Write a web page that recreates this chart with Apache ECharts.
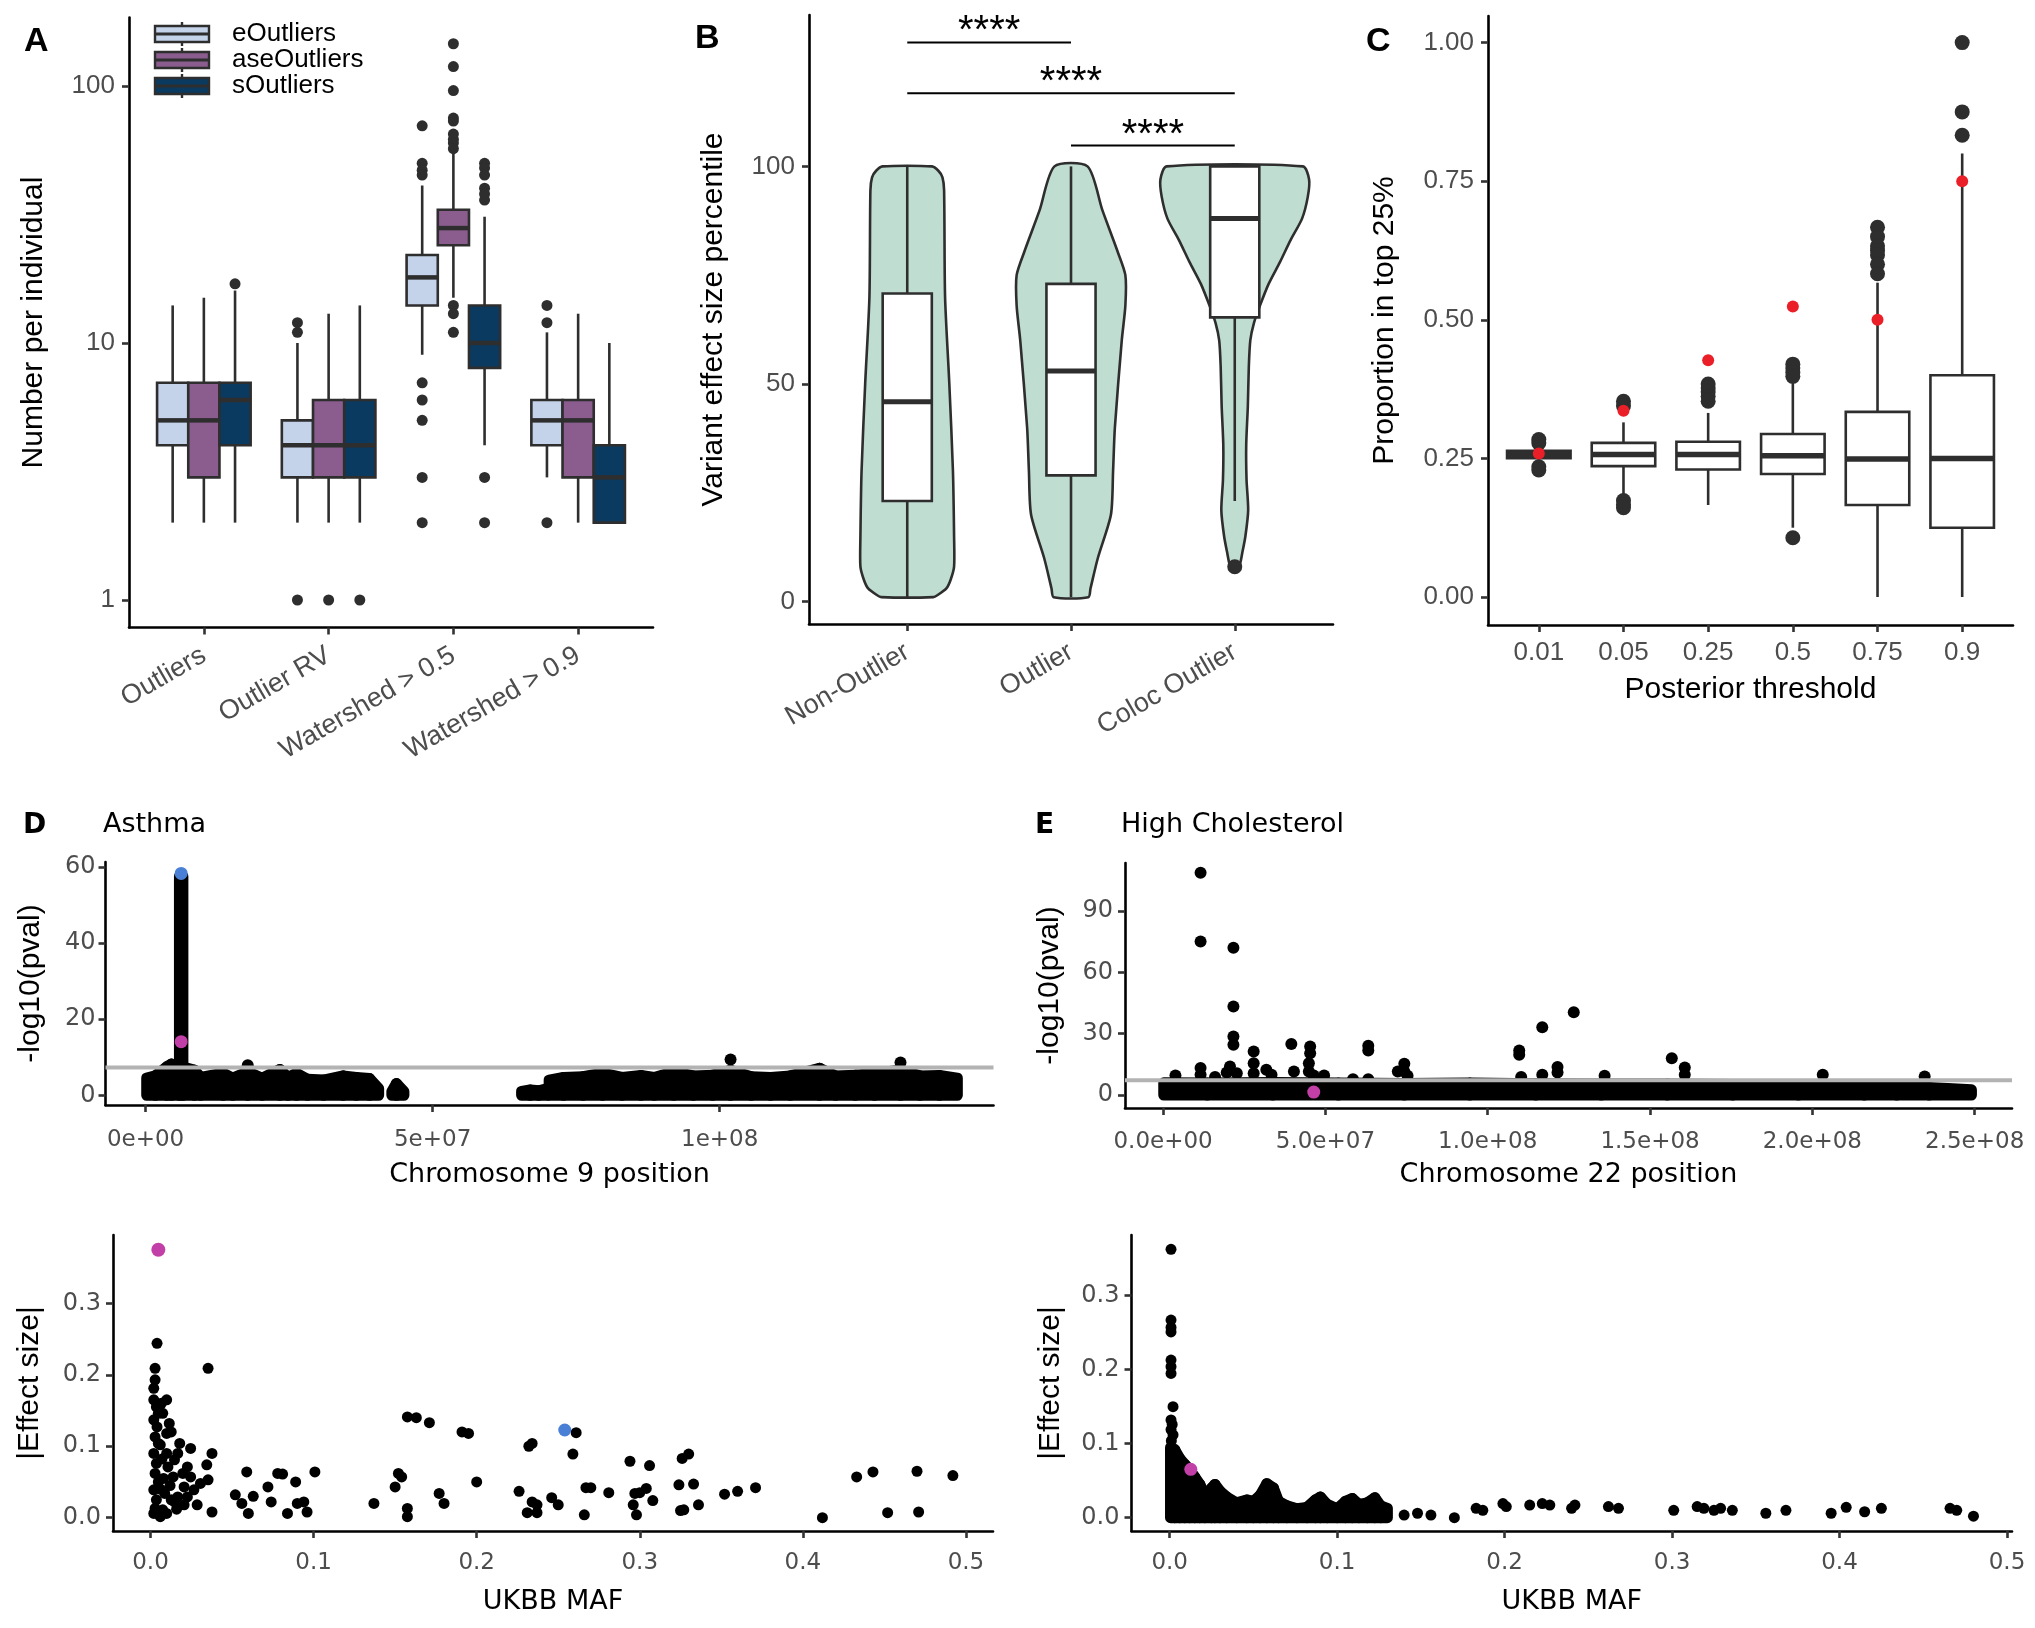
<!DOCTYPE html>
<html><head><meta charset="utf-8">
<script src="https://cdn.jsdelivr.net/npm/echarts@6/dist/echarts.min.js"></script>
<style>html,body{margin:0;padding:0;background:#fff}#c{width:2035px;height:1628px}</style>
</head><body><div id="c"></div><script>
// ================= DATA =================
// ---- Panel A ----
const A_categories = ['Outliers', 'Outlier RV', 'Watershed > 0.5', 'Watershed > 0.9'];
const A_groups = ['eOutliers', 'aseOutliers', 'sOutliers'];
// [lowerWhisker, q1, median, q3, upperWhisker] per category
const A_eOutliers = [[2, 4, 5, 7, 14], [2, 3, 4, 5, 10], [9, 14, 18, 22, 41], [3, 4, 5, 6, 11]];
const A_aseOutliers = [[2, 3, 5, 7, 15], [2, 3, 4, 6, 13], [15, 24, 28, 33, 56], [2, 3, 5, 6, 13]];
const A_sOutliers = [[2, 4, 6, 7, 16], [2, 3, 4, 6, 14], [4, 8, 10, 14, 31], [2, 2, 3, 4, 10]];
// outliers: [categoryIndex, value]
const A_eOutliers_out = [[1, 12], [1, 11], [1, 1], [2, 70], [2, 50], [2, 47], [2, 45], [2, 7], [2, 6], [2, 5], [2, 3], [2, 2], [3, 14], [3, 12], [3, 2]];
const A_aseOutliers_out = [[1, 1], [2, 146], [2, 119], [2, 96], [2, 75], [2, 73], [2, 65], [2, 62], [2, 60], [2, 57], [2, 14], [2, 13], [2, 11]];
const A_sOutliers_out = [[0, 17], [1, 1], [2, 50], [2, 48], [2, 45], [2, 40], [2, 38], [2, 36], [2, 3], [2, 2]];
const A_yTicks = [1, 10, 100];
const A_yTickLabels = ['1', '10', '100'];

// ---- Panel B ----
const B_categories = ['Non-Outlier', 'Outlier', 'Coloc Outlier'];
// violin outline: [percentile, half width in category units]
const B_violin_nonOutlier = [[1, 0.159], [1.5, 0.186], [3, 0.239], [5, 0.265], [8, 0.286], [15, 0.286], [30, 0.279], [50, 0.257], [70, 0.231], [94.5, 0.225], [97.5, 0.215], [99, 0.19], [100, 0.151]];
const B_violin_outlier = [[1, 0.106], [3, 0.119], [10, 0.164], [20, 0.244], [30, 0.257], [40, 0.268], [60, 0.31], [68, 0.332], [75, 0.332], [80.5, 0.284], [90, 0.191], [100, 0.101]];
const B_violin_coloc = [[7.5, 0.0], [8.5, 0.03], [11, 0.045], [15, 0.065], [21, 0.082], [28, 0.072], [36, 0.07], [45, 0.08], [54, 0.086], [60, 0.095], [64, 0.117], [68, 0.154], [73, 0.207], [78, 0.276], [83, 0.34], [88, 0.411], [93, 0.446], [97, 0.454], [100, 0.416]];
const B_box = [[1, 23.1, 45.9, 70.8, 100], [1, 29, 53, 73, 100], [23.1, 65.3, 88, 100, 100]];
const B_outliers = [[2, 8]];
const B_sigBars = [[0, 1, 128.5], [0, 2, 116.8], [1, 2, 104.8]];
const B_sigLabels = ['****', '****', '****'];
const B_yTicks = [0, 50, 100];

// ---- Panel C ----
const C_categories = ['0.01', '0.05', '0.25', '0.5', '0.75', '0.9'];
const C_box = [[0.245, 0.2504, 0.257, 0.2637, 0.27], [0.182, 0.236, 0.257, 0.278, 0.315], [0.166, 0.23, 0.257, 0.28, 0.332], [0.125, 0.222, 0.255, 0.294, 0.386], [0, 0.166, 0.249, 0.334, 0.567], [0, 0.125, 0.25, 0.40, 0.8]];
const C_outliers = [[0, 0.284], [0, 0.278], [0, 0.235], [0, 0.229], [1, 0.353], [1, 0.345], [1, 0.174], [1, 0.167], [1, 0.161], [2, 0.384], [2, 0.377], [2, 0.37], [2, 0.362], [2, 0.353], [3, 0.42], [3, 0.413], [3, 0.405], [3, 0.398], [3, 0.107], [4, 0.667], [4, 0.65], [4, 0.633], [4, 0.625], [4, 0.617], [4, 0.6], [4, 0.583], [5, 1.0], [5, 0.875], [5, 0.833]];
const C_observed = [0.259, 0.336, 0.427, 0.524, 0.5, 0.75];
const C_yTicks = [0, 0.25, 0.5, 0.75, 1.0];
const C_yTickLabels = ['0.00', '0.25', '0.50', '0.75', '1.00'];

// ---- Panel D top: Asthma, chromosome 9 ----
const Dt_xTicks = [0, 5e7, 1e8];
const Dt_xTickLabels = ['0e+00', '5e+07', '1e+08'];
const Dt_yTicks = [0, 20, 40, 60];
const Dt_threshold = 7.3;
// dense bands of variants: [position, upper -log10(p)]
const Dt_band1 = [[2e5, 4.5], [1.7e6, 5.1], [3.7e6, 7.5], [4.5e6, 8.2], [8.5e6, 6.6], [9.6e6, 4.7], [1.35e7, 5.8], [1.52e7, 4.5], [1.78e7, 6.2], [2.03e7, 4.5], [2.34e7, 6.8], [2.48e7, 4.7], [2.63e7, 5.8], [2.82e7, 4.2], [3.1e7, 4.0], [3.44e7, 5.1], [3.67e7, 4.7], [3.9e7, 4.4], [4.06e7, 1.8]];
const Dt_band2 = [[4.29e7, 1.0], [4.37e7, 3.1], [4.5e7, 1.0]];
const Dt_band3 = [[6.55e7, 1.0], [6.7e7, 1.4], [6.85e7, 1.2], [7.0e7, 1.8]];
const Dt_band4 = [[7.03e7, 4.0], [7.28e7, 4.7], [7.62e7, 4.9], [7.96e7, 5.8], [8.3e7, 4.7], [8.63e7, 5.2], [8.86e7, 4.7], [9.2e7, 6.2], [9.54e7, 5.1], [9.88e7, 5.3], [1.019e8, 6.6], [1.055e8, 4.9], [1.089e8, 4.7], [1.123e8, 5.1], [1.174e8, 7.1], [1.202e8, 5.1], [1.236e8, 5.3], [1.27e8, 5.8], [1.315e8, 6.6], [1.349e8, 5.1], [1.383e8, 5.2], [1.414e8, 4.5]];
const Dt_peak = [[5.9e6, 57.5], [6.5e6, 57.5]];
const Dt_points = [[1.78e7, 7.9], [1.019e8, 9.4], [1.315e8, 8.6]];
const Dt_lead = [[6.2e6, 58.3]];
const Dt_coloc = [[6.2e6, 14.1]];

// ---- Panel E top: High Cholesterol, chromosome 22 ----
const Et_xTicks = [0, 5e7, 1e8, 1.5e8, 2e8, 2.5e8];
const Et_xTickLabels = ['0.0e+00', '5.0e+07', '1.0e+08', '1.5e+08', '2.0e+08', '2.5e+08'];
const Et_yTicks = [0, 30, 60, 90];
const Et_threshold = 7.3;
const Et_band = [[2e5, 6.0], [1.36e7, 5.9], [3.38e7, 6.2], [5.4e7, 5.9], [7.43e7, 5.7], [9.45e7, 5.9], [1.148e8, 5.5], [1.35e8, 5.4], [1.553e8, 5.4], [1.755e8, 5.2], [1.957e8, 4.9], [2.16e8, 4.7], [2.26e8, 4.2], [2.36e8, 3.7], [2.49e8, 2.6]];
const Et_points = [[1.154e7, 108.6], [1.154e7, 75.0], [2.166e7, 72.0], [2.166e7, 43.3], [2.166e7, 28.6], [2.166e7, 24.6], [2.06e7, 14.0], [1.96e7, 11.1], [2.27e7, 10.7], [2.79e7, 21.3], [2.79e7, 15.6], [2.79e7, 10.7], [1.154e7, 13.2], [1.154e7, 9.9], [3.8e6, 9.6], [1.6e7, 8.8], [3.18e7, 12.4], [3.34e7, 9.9], [3.95e7, 25.0], [4.03e7, 11.5], [4.53e7, 23.7], [4.53e7, 20.5], [4.49e7, 15.6], [4.49e7, 11.5], [4.64e7, 9.6], [4.96e7, 9.6], [5.85e7, 7.8], [6.32e7, 24.1], [6.32e7, 21.8], [6.32e7, 7.8], [7.23e7, 11.5], [7.43e7, 15.3], [7.43e7, 11.5], [7.53e7, 9.4], [1.097e8, 21.8], [1.097e8, 19.7], [1.103e8, 8.8], [1.168e8, 33.2], [1.168e8, 9.9], [1.215e8, 13.7], [1.215e8, 11.1], [1.265e8, 40.5], [1.36e8, 9.4], [1.567e8, 18.0], [1.607e8, 13.5], [1.607e8, 9.9], [2.032e8, 9.9], [2.346e8, 9.1]];
const Et_coloc = [[4.64e7, 1.5]];

// ---- Panel D bottom: effect size vs MAF (Asthma) ----
const B_mafTicks = [0, 0.1, 0.2, 0.3, 0.4, 0.5];
const B_mafTickLabels = ['0.0', '0.1', '0.2', '0.3', '0.4', '0.5'];
const B_effTicks = [0, 0.1, 0.2, 0.3];
const B_effTickLabels = ['0.0', '0.1', '0.2', '0.3'];
const Db_points = [[0.0028, 0.209], [0.0028, 0.193], [0.002, 0.181], [0.002, 0.165], [0.0036, 0.155], [0.0048, 0.146], [0.002, 0.137], [0.004, 0.127], [0.0028, 0.113], [0.0048, 0.104], [0.002, 0.09], [0.0036, 0.076], [0.0028, 0.062], [0.0048, 0.05], [0.002, 0.039], [0.0036, 0.025], [0.0028, 0.013], [0.006, 0.0014], [0.004, 0.244], [0.002, 0.006], [0.0067, 0.16], [0.0075, 0.146], [0.0115, 0.132], [0.0099, 0.118], [0.0127, 0.12], [0.0099, 0.09], [0.0107, 0.071], [0.0147, 0.081], [0.0139, 0.057], [0.0087, 0.034], [0.0127, 0.025], [0.0167, 0.09], [0.0179, 0.104], [0.0198, 0.062], [0.0226, 0.071], [0.0206, 0.043], [0.0075, 0.011], [0.0099, 0.006], [0.0167, 0.029], [0.0147, 0.022], [0.0206, 0.018], [0.0246, 0.097], [0.0246, 0.057], [0.0266, 0.039], [0.0226, 0.029], [0.0286, 0.018], [0.0306, 0.048], [0.0345, 0.074], [0.0353, 0.053], [0.0377, 0.09], [0.0377, 0.008], [0.0353, 0.209], [0.0099, 0.165], [0.006, 0.102], [0.007, 0.082], [0.008, 0.055], [0.006, 0.04], [0.012, 0.045], [0.016, 0.012],
  [0.052, 0.032], [0.056, 0.02], [0.06, 0.006], [0.059, 0.064], [0.063, 0.03], [0.072, 0.043], [0.074, 0.022], [0.078, 0.062], [0.081, 0.061], [0.089, 0.05], [0.084, 0.006], [0.09, 0.02], [0.094, 0.022], [0.096, 0.008], [0.1008, 0.064],
  [0.137, 0.02], [0.15, 0.043], [0.152, 0.062], [0.154, 0.057], [0.1575, 0.141], [0.163, 0.14], [0.171, 0.133], [0.1575, 0.013], [0.1575, 0.0014], [0.177, 0.034], [0.18, 0.02], [0.191, 0.12], [0.195, 0.118], [0.2, 0.05],
  [0.226, 0.037], [0.232, 0.1], [0.234, 0.104], [0.231, 0.007], [0.234, 0.022], [0.237, 0.007], [0.237, 0.018], [0.246, 0.028], [0.25, 0.018], [0.261, 0.119], [0.259, 0.089], [0.266, 0.004], [0.267, 0.042], [0.27, 0.042], [0.281, 0.035], [0.294, 0.079], [0.297, 0.034], [0.298, 0.004], [0.296, 0.018], [0.3, 0.035], [0.304, 0.041], [0.306, 0.073], [0.308, 0.024], [0.324, 0.046], [0.326, 0.083], [0.33, 0.089], [0.333, 0.047], [0.325, 0.01], [0.327, 0.011], [0.336, 0.018], [0.352, 0.033], [0.36, 0.037], [0.371, 0.042], [0.412, 0.0], [0.433, 0.057], [0.443, 0.064], [0.452, 0.007], [0.47, 0.065], [0.471, 0.008], [0.492, 0.059]];
const Db_coloc = [[0.0048, 0.375]];
const Db_lead = [[0.254, 0.1227]];

// ---- Panel E bottom: effect size vs MAF (High Cholesterol) ----
const Eb_band = [[0.0005, 0.095], [0.003, 0.092], [0.006, 0.08], [0.009, 0.072], [0.012, 0.065], [0.015, 0.055], [0.018, 0.045], [0.021, 0.03], [0.025, 0.04], [0.027, 0.045], [0.03, 0.036], [0.034, 0.028], [0.04, 0.02], [0.046, 0.024], [0.05, 0.022], [0.054, 0.03], [0.058, 0.046], [0.062, 0.04], [0.065, 0.022], [0.07, 0.016], [0.076, 0.012], [0.082, 0.014], [0.087, 0.024], [0.09, 0.028], [0.094, 0.018], [0.1, 0.012], [0.105, 0.022], [0.109, 0.026], [0.113, 0.018], [0.118, 0.02], [0.1225, 0.027], [0.126, 0.016], [0.13, 0.0126]];
const Eb_points = [[0.0008, 0.3626], [0.0008, 0.267], [0.0008, 0.257], [0.0008, 0.251], [0.0008, 0.213], [0.0008, 0.204], [0.0008, 0.195], [0.002, 0.15], [0.0008, 0.132], [0.0015, 0.126], [0.0008, 0.119], [0.002, 0.112], [0.001, 0.104],
  [0.14, 0.0036], [0.148, 0.006], [0.156, 0.0036], [0.17, 0.0], [0.183, 0.0126], [0.187, 0.01], [0.199, 0.019], [0.201, 0.015], [0.215, 0.017], [0.2225, 0.019], [0.227, 0.017], [0.24, 0.0126], [0.242, 0.017], [0.262, 0.015], [0.268, 0.0126], [0.301, 0.01], [0.315, 0.015], [0.319, 0.0126], [0.325, 0.01], [0.329, 0.0126], [0.336, 0.01], [0.356, 0.006], [0.368, 0.01], [0.395, 0.006], [0.404, 0.014], [0.415, 0.008], [0.425, 0.0126], [0.466, 0.0126], [0.47, 0.01], [0.48, 0.002]];
const Eb_coloc = [[0.0126, 0.0653]];

// ================= STYLE / LAYOUT =================
const F1 = '"Liberation Sans", Arial, Helvetica, sans-serif';
const F2 = '"DejaVu Sans", "Liberation Sans", sans-serif';
const GREY = '#4d4d4d';
const DARK = '#2e2e2e';
const A_colors = ['#c4d3e9', '#8a5d8e', '#0b3a60'];
const VIOLIN = '#c0ddd2';
const RED = '#ea1f27', BLUE = '#4a7fd6', MAGENTA = '#c23fa8';
// grids: left, top, width, height
const GRIDS = [[129, 17.5, 524, 610], [809, 15, 524, 609], [1488, 16, 525, 609], [105.5, 862, 888, 243], [1125, 863, 887, 245], [113, 1235, 880, 296], [1131.5, 1235, 880.5, 296]];

function labelFor(ticks, labels) {
  return v => { let b = 0, d = Infinity; ticks.forEach((t, i) => { const dd = Math.abs(t - v); if (dd < d) { d = dd; b = i; } }); return labels[b]; };
}
function axis(gi, min, max, ticks, labels, o) {
  const ax = {
    type: 'value', gridIndex: gi, min: min, max: max, scale: false,
    axisLine: { show: true, onZero: false, lineStyle: { color: '#000', width: 2.6 } },
    axisTick: { show: true, length: 7, customValues: ticks, lineStyle: { color: '#333', width: 2.6 } },
    axisLabel: { show: true, customValues: ticks, formatter: labelFor(ticks, labels), margin: o.margin, rotate: o.rotate || 0,
      fontFamily: o.font, fontSize: o.size, color: GREY },
    splitLine: { show: false }
  };
  if (o.name) {
    ax.name = o.name; ax.nameLocation = 'middle'; ax.nameGap = o.nameGap; ax.nameMoveOverlap = false;
    if (o.vertical) ax.nameRotate = 90;
    ax.nameTextStyle = { fontFamily: o.nameFont || o.font, fontSize: o.nameSize, color: '#000' };
  }
  return ax;
}
const idx = arr => arr.map((_, i) => i);

const xAxes = [
  axis(0, -0.6, 3.6, idx(A_categories), A_categories, { margin: 26, rotate: 30, font: F1, size: 27 }),
  axis(1, -0.6, 2.6, idx(B_categories), B_categories, { margin: 26, rotate: 30, font: F1, size: 27 }),
  axis(2, -0.6, 5.6, idx(C_categories), C_categories, { margin: 15, font: F1, size: 26, name: 'Posterior threshold', nameGap: 50, nameSize: 30 }),
  axis(3, -0.698e7, 1.477e8, Dt_xTicks, Dt_xTickLabels, { margin: 24, font: F2, size: 23, name: 'Chromosome 9 position', nameGap: 56, nameSize: 27 }),
  axis(4, -1.174e7, 2.615e8, Et_xTicks, Et_xTickLabels, { margin: 23, font: F2, size: 23, name: 'Chromosome 22 position', nameGap: 53, nameSize: 27 }),
  axis(5, -0.023, 0.5166, B_mafTicks, B_mafTickLabels, { margin: 21, font: F2, size: 23, name: 'UKBB MAF', nameGap: 57, nameSize: 27 }),
  axis(6, -0.0228, 0.503, B_mafTicks, B_mafTickLabels, { margin: 21, font: F2, size: 23, name: 'UKBB MAF', nameGap: 57, nameSize: 27 })
];
const yAxes = [
  axis(0, -0.107, 2.2665, A_yTicks.map(Math.log10), A_yTickLabels, { margin: 14, font: F1, size: 26, name: 'Number per individual', nameGap: 80, nameSize: 30, vertical: true }),
  axis(1, -5.17, 134.8, B_yTicks, B_yTicks.map(String), { margin: 14, font: F1, size: 26, name: 'Variant effect size percentile', nameGap: 80, nameSize: 30, vertical: true }),
  axis(2, -0.0505, 1.048, C_yTicks, C_yTickLabels, { margin: 14, font: F1, size: 26, name: 'Proportion in top 25%', nameGap: 88, nameSize: 30, vertical: true }),
  axis(3, -2.55, 61.3, Dt_yTicks, Dt_yTicks.map(String), { margin: 10, font: F2, size: 24, name: '-log10(pval)', nameGap: 60, nameFont: F1, nameSize: 30, vertical: true }),
  axis(4, -6.3, 113.4, Et_yTicks, Et_yTicks.map(String), { margin: 12, font: F2, size: 24, name: '-log10(pval)', nameGap: 60, nameFont: F1, nameSize: 30, vertical: true }),
  axis(5, -0.0186, 0.3956, B_effTicks, B_effTickLabels, { margin: 12, font: F2, size: 24, name: '|Effect size|', nameGap: 68, nameFont: F1, nameSize: 30, vertical: true }),
  axis(6, -0.018, 0.382, B_effTicks, B_effTickLabels, { margin: 12, font: F2, size: 24, name: '|Effect size|', nameGap: 66, nameFont: F1, nameSize: 30, vertical: true })
];

// ================= RENDERERS =================
function boxRender(width, fill, lw, medLW) {
  return function (params, api) {
    const x = api.value(0), lo = api.value(1), q1 = api.value(2), md = api.value(3), q3 = api.value(4), hi = api.value(5);
    const tl = api.coord([x - width / 2, q3]), br = api.coord([x + width / 2, q1]);
    const cHi = api.coord([x, hi]), cQ3 = api.coord([x, q3]), cQ1 = api.coord([x, q1]), cLo = api.coord([x, lo]);
    const mL = api.coord([x - width / 2, md]), mR = api.coord([x + width / 2, md]);
    return { type: 'group', children: [
      { type: 'line', shape: { x1: cHi[0], y1: cHi[1], x2: cQ3[0], y2: cQ3[1] }, style: { stroke: DARK, lineWidth: lw } },
      { type: 'line', shape: { x1: cQ1[0], y1: cQ1[1], x2: cLo[0], y2: cLo[1] }, style: { stroke: DARK, lineWidth: lw } },
      { type: 'rect', shape: { x: tl[0], y: tl[1], width: br[0] - tl[0], height: br[1] - tl[1] }, style: { fill: fill, stroke: DARK, lineWidth: lw } },
      { type: 'line', shape: { x1: mL[0], y1: mL[1], x2: mR[0], y2: mR[1] }, style: { stroke: DARK, lineWidth: medLW } }
    ] };
  };
}
function boxSeries(gi, data, width, fill, lw, medLW, z) {
  return { type: 'custom', xAxisIndex: gi, yAxisIndex: gi, data: data, encode: { x: 0, y: [1, 2, 3, 4, 5] },
    renderItem: boxRender(width, fill, lw, medLW), z: z || 2, silent: true, clip: false };
}
function scatter(gi, data, size, color, z) {
  return { type: 'scatter', xAxisIndex: gi, yAxisIndex: gi, data: data, symbol: 'circle', symbolSize: size,
    itemStyle: { color: color, opacity: 1, borderWidth: 0 }, z: z || 3, silent: true, clip: false };
}
function bandSeries(gi, pts) {
  return { type: 'custom', xAxisIndex: gi, yAxisIndex: gi, data: pts, encode: { x: 0, y: 1 }, z: 2, silent: true, clip: false,
    renderItem: function (params, api) {
      const i = params.dataIndex;
      if (i >= pts.length - 1) return { type: 'group', children: [] };
      const a = pts[i], b = pts[i + 1];
      const p = [api.coord([a[0], 0]), api.coord([a[0], a[1]]), api.coord([b[0], b[1]]), api.coord([b[0], 0])];
      return { type: 'polygon', shape: { points: p }, style: { fill: '#000', stroke: '#000', lineWidth: 11, lineJoin: 'round' } };
    } };
}
function hlineSeries(gi, yv) {
  return { type: 'custom', xAxisIndex: gi, yAxisIndex: gi, data: [[0, yv]], encode: { x: 0, y: 1 }, z: 4, silent: true, clip: false,
    renderItem: function (params, api) {
      const cs = params.coordSys; const y = api.coord([0, api.value(1)])[1];
      return { type: 'line', shape: { x1: cs.x, y1: y, x2: cs.x + cs.width, y2: y }, style: { stroke: '#b3b3b3', lineWidth: 4 } };
    } };
}

// ================= SERIES =================
const series = [];
// Panel A
const A_boxSets = [A_eOutliers, A_aseOutliers, A_sOutliers];
const A_outSets = [A_eOutliers_out, A_aseOutliers_out, A_sOutliers_out];
A_boxSets.forEach((set, g) => {
  const off = (g - 1) * 0.25;
  series.push(boxSeries(0, set.map((b, i) => [i + off].concat(b.map(Math.log10))), 0.25, A_colors[g], 2.6, 4.5, 2));
  series.push(scatter(0, A_outSets[g].map(([c, v]) => [c + off, Math.log10(v)]), 11, DARK, 3));
});
// Panel B violins
const B_profiles = [B_violin_nonOutlier, B_violin_outlier, B_violin_coloc];
series.push({ type: 'custom', xAxisIndex: 1, yAxisIndex: 1, data: B_categories.map((_, i) => [i, 50]), encode: { x: 0, y: 1 }, z: 1, silent: true,
  renderItem: function (params, api) {
    const cx = api.value(0), prof = B_profiles[params.dataIndex];
    const pts = [];
    prof.forEach(([y, h]) => pts.push(api.coord([cx - h, y])));
    for (let i = prof.length - 1; i >= 0; i--) { const [y, h] = prof[i]; pts.push(api.coord([cx + h, y])); }
    return { type: 'polygon', shape: { points: pts, smooth: 0.25 }, style: { fill: VIOLIN, stroke: DARK, lineWidth: 2.6 } };
  } });
series.push(boxSeries(1, B_box.map((b, i) => [i].concat(b)), 0.3, '#ffffff', 2.6, 5, 2));
series.push(scatter(1, B_outliers, 15, DARK, 3));
series.push({ type: 'custom', xAxisIndex: 1, yAxisIndex: 1, data: B_sigBars, encode: { x: [0, 1], y: 2 }, z: 3, silent: true, clip: false,
  renderItem: function (params, api) {
    const a = api.coord([api.value(0), api.value(2)]), b = api.coord([api.value(1), api.value(2)]);
    return { type: 'group', children: [
      { type: 'line', shape: { x1: a[0], y1: a[1], x2: b[0], y2: b[1] }, style: { stroke: '#000', lineWidth: 2 } },
      { type: 'text', style: { x: (a[0] + b[0]) / 2, y: a[1] - 10, text: B_sigLabels[params.dataIndex], align: 'center', verticalAlign: 'middle', font: '40px ' + F1, fill: '#000' } }
    ] };
  } });
// Panel C
series.push(boxSeries(2, C_box.map((b, i) => [i].concat(b)), 0.75, '#ffffff', 2.6, 5.5, 2));
series.push(scatter(2, C_outliers, 15, DARK, 3));
series.push(scatter(2, C_observed.map((v, i) => [i, v]), 12, RED, 4));
// Panel D top
[Dt_band1, Dt_band2, Dt_band3, Dt_band4, Dt_peak].forEach(b => series.push(bandSeries(3, b)));
series.push(scatter(3, Dt_points, 12, '#000', 3));
series.push(hlineSeries(3, Dt_threshold));
series.push(scatter(3, Dt_lead, 13, BLUE, 5));
series.push(scatter(3, Dt_coloc, 13, MAGENTA, 5));
// Panel E top
series.push(bandSeries(4, Et_band));
series.push(scatter(4, Et_points, 12, '#000', 3));
series.push(hlineSeries(4, Et_threshold));
series.push(scatter(4, Et_coloc, 13, MAGENTA, 5));
// Panel D bottom
series.push(scatter(5, Db_points, 11, '#000', 3));
series.push(scatter(5, Db_coloc, 14, MAGENTA, 5));
series.push(scatter(5, Db_lead, 13, BLUE, 5));
// Panel E bottom
series.push(bandSeries(6, Eb_band));
series.push(scatter(6, Eb_points, 11, '#000', 3));
series.push(scatter(6, Eb_coloc, 13, MAGENTA, 5));

// ================= GRAPHIC (panel letters, titles, legend) =================
const graphic = [];
function txt(x, y, text, font, align) {
  graphic.push({ type: 'text', x: x, y: y, silent: true, style: { text: text, font: font, fill: '#000', align: align || 'left', verticalAlign: 'middle' } });
}
txt(24, 42, 'A', 'bold 34px ' + F1);
txt(695, 39, 'B', 'bold 34px ' + F1);
txt(1366, 42, 'C', 'bold 34px ' + F1);
txt(23, 826, 'D', 'bold 28px ' + F2);
txt(103, 825, 'Asthma', '27px ' + F2);
txt(1035, 826, 'E', 'bold 28px ' + F2);
txt(1121, 825, 'High Cholesterol', '27px ' + F2);
// legend of panel A
A_groups.forEach((name, g) => {
  const cy = 34 + 26 * g;
  graphic.push({ type: 'line', silent: true, z: 1, shape: { x1: 182, y1: cy - 12, x2: 182, y2: cy + 12 }, style: { stroke: DARK, lineWidth: 2.4 } });
});
A_groups.forEach((name, g) => {
  const cy = 34 + 26 * g;
  graphic.push({ type: 'rect', silent: true, z: 2, shape: { x: 155, y: cy - 8, width: 54, height: 16 }, style: { fill: A_colors[g], stroke: DARK, lineWidth: 2.4 } });
  graphic.push({ type: 'line', silent: true, z: 3, shape: { x1: 155, y1: cy, x2: 209, y2: cy }, style: { stroke: DARK, lineWidth: 3 } });
  graphic.push({ type: 'text', silent: true, x: 232, y: cy, style: { text: name, font: '26px ' + F1, fill: '#000', verticalAlign: 'middle' } });
});

const chart = echarts.init(document.getElementById('c'), null, { renderer: 'canvas' });
chart.setOption({
  animation: false,
  backgroundColor: '#ffffff',
  grid: GRIDS.map(g => ({ left: g[0], top: g[1], width: g[2], height: g[3], containLabel: false })),
  xAxis: xAxes,
  yAxis: yAxes,
  series: series,
  graphic: graphic
});
</script></body></html>
